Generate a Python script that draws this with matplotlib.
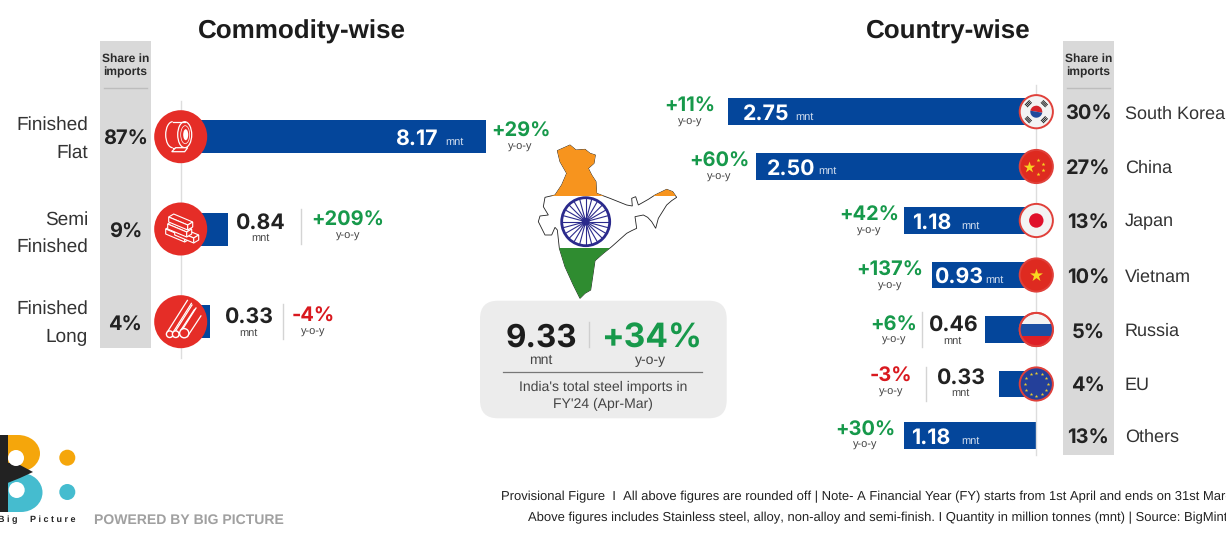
import numpy as np
import matplotlib
matplotlib.use('Agg')
import matplotlib.pyplot as plt
from matplotlib.patches import Arc, Circle, Ellipse, FancyBboxPatch, Polygon, Rectangle, Wedge

# Data
commodities = [['Finished', 'Flat'], ['Semi', 'Finished'], ['Finished', 'Long']]
commodity_mnt = [8.17, 0.84, 0.33]
commodity_share = [87, 9, 4]
commodity_yoy = [29, 209, -4]

countries = ['South Korea', 'China', 'Japan', 'Vietnam', 'Russia', 'EU', 'Others']
country_mnt = [2.75, 2.50, 1.18, 0.93, 0.46, 0.33, 1.18]
country_share = [30, 27, 13, 10, 5, 4, 13]
country_yoy = [11, 60, 42, 137, 6, -3, 30]

total_mnt = 9.33
total_yoy = 34

# Layout, all in picture pixels
W, H = 1226, 534
rows_left = [136.7, 229, 321.7]
rows_right = [111.7, 166.5, 220.5, 275, 329.5, 384, 435.5]
BLUE = '#04469b'
RED = '#e52d27'
GREEN = '#17994b'
NEG = '#d9191f'
DARK = '#222222'
GREY = '#d9d9d9'
NUM = 'Inter'
VAL_PX = 21.3

plt.rcParams['font.family'] = 'Liberation Sans'
plt.rcParams['text.hinting'] = 'no_hinting'
plt.rcParams['text.hinting_factor'] = 1
fig = plt.figure(figsize=(W / 100, H / 100), dpi=100, facecolor='white')

# Bars: x in mnt, y in picture pixels
ax_l = fig.add_axes([198.5 / W, 0, 300 / W, 1])
ax_l.barh(rows_left, commodity_mnt, height=33, color=BLUE)
ax_l.set_xlim(0, 300 / 35.2)
ax_l.set_ylim(H, 0)
ax_l.axis('off')

ax_r = fig.add_axes([(1036.3 - 448) / W, 0, 448 / W, 1])
ax_r.barh(rows_right, country_mnt, height=26.5, color=BLUE)
ax_r.set_xlim(4, 0)
ax_r.set_ylim(H, 0)
ax_r.axis('off')

# Everything else goes on a pixel overlay
ax = fig.add_axes([0, 0, 1, 1], facecolor='none')
ax.set_xlim(0, W)
ax.set_ylim(H, 0)
ax.axis('off')


def txt(x, y, s, px, color=DARK, weight='normal', ha='center', z=10, family=None):
    ax.text(x, y + 1, s, fontsize=px * 0.72, color=color, fontweight=weight, ha=ha, va='baseline', zorder=z,
            family=family or 'Liberation Sans')


def pct(v):
    return ('+' if v > 0 else '-') + str(abs(v)) + '%'


def yoy(x, y, v, y2, px=20):
    txt(x, y, pct(v), px, GREEN if v > 0 else NEG, 'bold', family=NUM)
    txt(x, y2, 'y-o-y', 11.5, '#444444')


def sep(x, y0, y1, color='#d4d4d4'):
    ax.plot([x, x], [y0, y1], color=color, lw=1, zorder=2)


# Titles
txt(301.5, 38, 'Commodity-wise', 25.5, '#1c1c1c', 'bold')
txt(948.5, 38, 'Country-wise', 25.5, '#1c1c1c', 'bold')

# Share strips
for x0, y1 in [(99.5, 347.7), (1062.7, 455)]:
    ax.add_patch(Rectangle((x0, 41), 51.6, y1 - 41, fc=GREY, ec='none', zorder=1))
    txt(x0 + 25.8, 61, 'Share in', 12.4, '#2a2a2a', 'bold')
    txt(x0 + 25.8, 75, 'imports', 12.4, '#2a2a2a', 'bold')
    ax.plot([x0 + 4.5, x0 + 47], [88, 88], color='#bdbdbd', lw=1, zorder=2)

# Axis lines
sep(180.7, 101, 358, '#dddddd')
sep(1036.3, 85, 455, '#dddddd')

# Commodity rows
left_label_y = [(129, 157), (224, 251), (313, 341)]
left_share_y = [144, 237, 330]
for names, ys, sh, sy in zip(commodities, left_label_y, commodity_share, left_share_y):
    txt(88, ys[0], names[0], 18.6, '#333333', ha='right')
    txt(88, ys[1], names[1], 18.6, '#333333', ha='right')
    txt(125.3, sy, f'{sh}%', 20, DARK, 'bold', family=NUM)

txt(416.5, 143.5, f'{commodity_mnt[0]:.2f}', VAL_PX, 'white', 'bold', family=NUM)
txt(445, 143.5, 'mnt', 11.5, '#d5e0f0', ha='left')
yoy(520.5, 136, commodity_yoy[0], 148.5)

txt(260.3, 227.5, f'{commodity_mnt[1]:.2f}', VAL_PX, DARK, 'bold', family=NUM)
txt(260.5, 240, 'mnt', 11.5, '#444444')
sep(301, 209, 244)
yoy(348, 225, commodity_yoy[1], 238)

txt(248.7, 322, f'{commodity_mnt[2]:.2f}', VAL_PX, DARK, 'bold', family=NUM)
txt(248.7, 335, 'mnt', 11.5, '#444444')
sep(283, 304, 339)
yoy(313.3, 321, commodity_yoy[2], 334)

# Country rows
right_share_y = [119, 173.3, 227.7, 282.3, 337.3, 391, 442.3]
right_label_y = [118, 172, 225, 281, 335.3, 389.3, 441]
for name, sh, sy, ly in zip(countries, country_share, right_share_y, right_label_y):
    txt(1088.4, sy, f'{sh}%', 20, DARK, 'bold', family=NUM)
    txt(1125, ly, name, 18.4, '#333333', ha='left')

yoy_pos = [(690, 111, 123.5), (719, 165.5, 178.5), (869, 220, 233), (890, 275, 288),
           (893.8, 329.5, 341.5), (891, 381, 393.5), (865, 434.5, 447)]
for (x, y, y2), v in zip(yoy_pos, country_yoy):
    yoy(x, y, v, y2)

inside_pos = [(743.3, 118.5, 795), (766.7, 173.3, 818), (911.7, 227.5, 961.7), (934, 282, 985.7), None, None,
              (910.7, 442.5, 961)]
for pos, v in zip(inside_pos, country_mnt):
    if pos:
        txt(pos[0], pos[1], f'{v:.2f}', VAL_PX, 'white', 'bold', ha='left', family=NUM)
        txt(pos[2], pos[1], 'mnt', 11.5, '#d5e0f0', ha='left')

txt(952.8, 330, f'{country_mnt[4]:.2f}', VAL_PX, DARK, 'bold', family=NUM)
txt(952.8, 342.5, 'mnt', 11.5, '#444444')
sep(921.7, 312.3, 346.7)
txt(960.7, 382.5, f'{country_mnt[5]:.2f}', VAL_PX, DARK, 'bold', family=NUM)
txt(960.7, 395, 'mnt', 11.5, '#444444')
sep(925.7, 366.7, 401)

# Commodity icons
for y in rows_left:
    ax.add_patch(Circle((180.7, y), 26.5, fc=RED, ec='none', zorder=4))

cx, cy = 180.7, rows_left[0]
lw = 0.9
ax.add_patch(Ellipse((cx + 4, cy - 2), 14, 26, fc=RED, ec='white', lw=lw, zorder=5))
ax.add_patch(Ellipse((cx + 4.5, cy - 2), 9, 18, fc='none', ec='white', lw=0.5, zorder=5))
ax.add_patch(Ellipse((cx + 5, cy - 2), 5, 11, fc='white', ec='none', zorder=5))
ax.add_patch(Arc((cx - 8, cy - 2), 14, 26, theta1=90, theta2=270, ec='white', lw=lw, zorder=5))
ax.plot([cx - 8, cx + 4], [cy - 15, cy - 15], color='white', lw=lw, zorder=5)
ax.plot([cx - 8, cx + 4], [cy + 11, cy + 11], color='white', lw=lw, zorder=5)
ax.add_patch(Polygon([(cx - 5, cy + 11), (cx - 9, cy + 15), (cx + 4, cy + 15), (cx + 7, cy + 11)],
                     fc=RED, ec='white', lw=lw, zorder=5))

cx, cy = 180.7, rows_left[1]
for ox, oy in [(-3, 7), (6, 8), (-1, 2), (0, -5)]:
    for pts in [[(-12, -7), (-7, -10), (12, -2), (7, 1)],
                [(-12, -7), (7, 1), (7, 6), (-12, -2)],
                [(7, 1), (12, -2), (12, 3), (7, 6)]]:
        ax.add_patch(Polygon([(cx + ox + a, cy + oy + b) for a, b in pts], fc=RED, ec='white', lw=0.8, zorder=5))

cx, cy = 180.7, rows_left[2]
for ox, oy, r, ex, ey in [(-11, 12.5, 3.3, 9, -19), (-5, 12.5, 3.3, 13, -16), (3.5, 11.5, 4.6, 17, -9)]:
    ax.plot([cx + ox - r * 0.7, cx + ex - r * 0.7], [cy + oy - r * 0.7, cy + ey - r * 0.7], color='white', lw=0.9, zorder=5)
    ax.plot([cx + ox + r * 0.7, cx + ex + r * 0.7], [cy + oy + r * 0.7, cy + ey + r * 0.7], color='white', lw=0.9, zorder=5)
    ax.add_patch(Circle((cx + ox, cy + oy), r, fc=RED, ec='white', lw=1, zorder=6))

# Flags
FX = 1036.3
FR = 16.6
FRING = '#e0403a'
for y, base in zip(rows_right[:6], ['#f3f3f3', '#de2a20', '#f3f3f3', '#de2a20', '#f3f3f3', '#24409a']):
    ax.add_patch(Circle((FX, y), FR, fc=base, ec=FRING, lw=1.4, zorder=4))

# Korea
y = rows_right[0]
ax.add_patch(Wedge((FX, y), 6, 190, 370, fc='#d6242c', ec='none', zorder=5))
ax.add_patch(Wedge((FX, y), 6, 10, 190, fc='#204a9c', ec='none', zorder=5))
for sx, sy in [(-1, -1), (1, -1), (-1, 1), (1, 1)]:
    for d in [-1.5, 0, 1.5]:
        mx = FX + sx * (8 + d * 0.7)
        my = y + sy * (8 + d * 0.7)
        ax.plot([mx - sx * 2, mx + sx * 2], [my + sy * 2, my - sy * 2], color='#222222', lw=0.7, zorder=5)

# China
y = rows_right[1]
ax.scatter([FX - 7.3], [y], s=75, marker='*', color='#f7d320', lw=0, zorder=5)
ax.scatter([FX + 2, FX + 6.3, FX + 6.3, FX + 2], [y - 6.7, y - 2.7, y + 3.3, y + 7.3], s=9, marker='*',
           color='#f7d320', lw=0, zorder=5)

# Japan
ax.add_patch(Circle((FX, rows_right[2]), 7.2, fc='#e0102a', ec='none', zorder=5))

# Vietnam
ax.scatter([FX], [rows_right[3]], s=95, marker='*', color='#f8d820', lw=0, zorder=5)

# Russia
y = rows_right[4]
clip = Circle((FX, y), FR, transform=ax.transData)
for y0, h, c in [(-6, 12, '#1c4fa3'), (6, 12, '#de1f26')]:
    r = Rectangle((FX - FR, y + y0), 2 * FR, h, fc=c, ec='none', zorder=5)
    ax.add_patch(r)
    r.set_clip_path(clip)
ax.add_patch(Circle((FX, y), FR, fc='none', ec=FRING, lw=1.4, zorder=6))

# EU
y = rows_right[5]
ang = np.deg2rad(np.arange(0, 360, 30))
ax.scatter(FX + 11.5 * np.cos(ang), y + 11.5 * np.sin(ang), s=7, marker='*', color='#e8cb30', lw=0, zorder=5)

# India map
india = [(262, 122), (300, 105), (318, 120), (345, 118), (360, 130), (376, 135), (372, 160), (355, 175), (365, 195),
         (378, 215), (380, 250), (420, 265), (470, 285), (487, 288), (485, 265), (497, 260), (505, 285), (535, 268),
         (555, 255), (590, 238), (608, 245), (620, 262), (605, 272), (590, 285), (565, 325), (557, 355), (545, 335),
         (533, 322), (520, 315), (495, 320), (500, 355), (485, 362), (470, 370), (425, 410), (400, 430), (375, 452),
         (368, 500), (362, 540), (345, 550), (330, 565), (310, 525), (285, 470), (268, 415), (262, 360), (255, 352),
         (245, 375), (225, 375), (205, 335), (210, 318), (235, 315), (220, 290), (225, 262), (255, 255), (275, 225),
         (290, 190), (270, 155)]
india_px = [(470 + a / 3, 110 + b / 3) for a, b in india]
ax.add_patch(Polygon(india_px, fc='white', ec='#222222', lw=0.6, zorder=3))
shape = Polygon(india_px, transform=ax.transData)
for y0, h, c in [(140, 55.7, '#f7941e'), (247.7, 55, '#2f8c30')]:
    r = Rectangle((530, y0), 160, h, fc=c, ec='none', zorder=4)
    ax.add_patch(r)
    r.set_clip_path(shape)
CH = '#2b2a8c'
chx, chy = 585.7, 221.7
ax.add_patch(Circle((chx, chy), 24, fc='white', ec=CH, lw=2, zorder=5))
for a in np.deg2rad(np.arange(0, 360, 15)):
    ax.plot([chx + 4 * np.cos(a), chx + 23 * np.cos(a)], [chy + 4 * np.sin(a), chy + 23 * np.sin(a)], color=CH, lw=0.8,
            zorder=5)
ax.add_patch(Circle((chx, chy), 4, fc=CH, ec='none', zorder=6))

# Total box
ax.add_patch(FancyBboxPatch((498, 318.7), 210.7, 81.6, boxstyle='round,pad=18,rounding_size=18', fc='#ececec',
                            ec='none', zorder=1))
txt(541, 345.5, f'{total_mnt:.2f}', 31.5, '#1c1c1c', 'bold', family=NUM)
txt(651, 346.5, pct(total_yoy), 33.5, GREEN, 'bold', family=NUM)
txt(540.7, 362.8, 'mnt', 13.5, '#444444')
txt(651, 362.8, 'y-o-y', 13.5, '#444444')
sep(589, 321.7, 346.7, '#cfcfcf')
ax.plot([503.3, 702.3], [371.7, 371.7], color='#777777', lw=0.9, zorder=2)
txt(602.7, 390, "India's total steel imports in", 13.6, '#444444')
txt(602.7, 406.7, "FY'24 (Apr-Mar)", 13.6, '#444444')

# Logo
ax.add_patch(Rectangle((0, 435), 18, 37, fc='#f5a60b', ec='none', zorder=3))
ax.add_patch(Ellipse((18, 453.5), 44, 37, fc='#f5a60b', ec='none', zorder=3))
ax.add_patch(Rectangle((0, 473), 21, 39, fc='#45bccf', ec='none', zorder=3))
ax.add_patch(Ellipse((21, 492.5), 43, 39, fc='#45bccf', ec='none', zorder=3))
ax.add_patch(Rectangle((0, 435), 8, 77, fc='#222222', ec='none', zorder=4))
ax.add_patch(Polygon([(5, 462), (20, 465), (33, 472), (20, 478), (5, 484)], fc='#222222', ec='none', zorder=4))
ax.add_patch(Circle((16, 458), 8, fc='white', ec='none', zorder=5))
ax.add_patch(Circle((16.7, 490), 8, fc='white', ec='none', zorder=5))
ax.add_patch(Circle((67.3, 457.7), 8, fc='#f5a60b', ec='none', zorder=3))
ax.add_patch(Circle((67.3, 492), 8, fc='#45bccf', ec='none', zorder=3))
txt(76, 521, 'B i g     P i c t u r e', 9.4, '#222222', 'bold', ha='right')
txt(94, 523, 'POWERED BY BIG PICTURE', 14, '#a0a0a0', 'bold', ha='left')

# Footnotes, cut off by the right edge as in the picture
txt(501, 499, 'Provisional Figure  I  All above figures are rounded off | Note- A Financial Year (FY) starts from '
    '1st April and ends on 31st March', 12.7, '#222222', ha='left')
txt(528, 520, 'Above figures includes Stainless steel, alloy, non-alloy and semi-finish. I Quantity in million '
    'tonnes (mnt) | Source: BigMint', 13.05, '#222222', ha='left')

plt.savefig('out.png', dpi=100, facecolor='white')
